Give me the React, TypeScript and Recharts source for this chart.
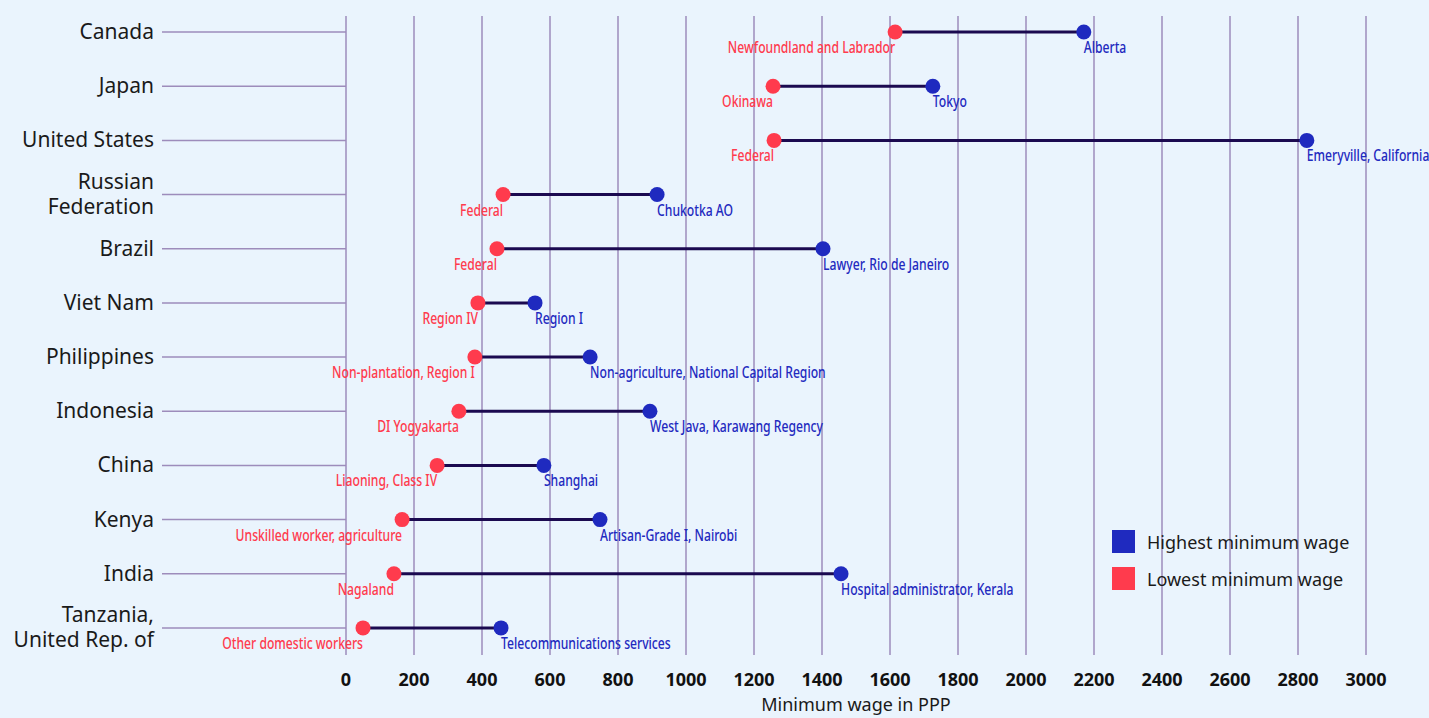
import React from 'react';
import { ScatterChart, Scatter, XAxis, YAxis, CartesianGrid } from 'recharts';

const countries = [
  'Canada',
  'Japan',
  'United States',
  'Russian\nFederation',
  'Brazil',
  'Viet Nam',
  'Philippines',
  'Indonesia',
  'China',
  'Kenya',
  'India',
  'Tanzania,\nUnited Rep. of',
];
const lowestValues = [1615, 1256, 1259, 462, 444, 388, 379, 332, 268, 165, 141, 50];
const lowestLabels = [
  'Newfoundland and Labrador',
  'Okinawa',
  'Federal',
  'Federal',
  'Federal',
  'Region IV',
  'Non-plantation, Region I',
  'DI Yogyakarta',
  'Liaoning, Class IV',
  'Unskilled worker, agriculture',
  'Nagaland',
  'Other domestic workers',
];
const highestValues = [2170, 1726, 2826, 915, 1403, 556, 718, 894, 582, 747, 1456, 456];
const highestLabels = [
  'Alberta',
  'Tokyo',
  'Emeryville, California',
  'Chukotka AO',
  'Lawyer, Rio de Janeiro',
  'Region I',
  'Non-agriculture, National Capital Region',
  'West Java, Karawang Regency',
  'Shanghai',
  'Artisan-Grade I, Nairobi',
  'Hospital administrator, Kerala',
  'Telecommunications services',
];
const xTicks = [0, 200, 400, 600, 800, 1000, 1200, 1400, 1600, 1800, 2000, 2200, 2400, 2600, 2800, 3000];
const legendItems = ['Highest minimum wage', 'Lowest minimum wage'];

const BG = '#eaf4fd';
const RED = '#ff3b4d';
const BLUE = '#1f2abf';
const LINE = '#1b0a50';
const GRID = '#9d8cbb';
const FONT = '"Noto Sans", sans-serif';
const SQUEEZE = 0.76;

const lowData = countries.map((c, i) => ({ x: lowestValues[i], y: i, label: lowestLabels[i] }));
const highData = countries.map((c, i) => ({ x: highestValues[i], y: i, label: highestLabels[i] }));
const pairData = countries.map((c, i) => [
  { x: lowestValues[i], y: i },
  { x: highestValues[i], y: i },
]);

const NarrowLabel = ({ x, y, anchor, color, text }: any) => (
  <text
    transform={`translate(${x},${y}) scale(${SQUEEZE},1)`}
    x={0}
    y={0}
    textAnchor={anchor}
    fill={color}
    style={{ fontFamily: FONT, fontSize: 16, fontWeight: 500 }}
  >
    {text}
  </text>
);

const LowShape = (p: any) => (
  <g>
    <circle cx={p.cx} cy={p.cy} r={7.5} fill={RED} />
    <NarrowLabel x={p.cx} y={p.cy + 21} anchor="end" color={RED} text={p.payload.label} />
  </g>
);

const HighShape = (p: any) => (
  <g>
    <circle cx={p.cx} cy={p.cy} r={7.5} fill={BLUE} />
    <NarrowLabel x={p.cx} y={p.cy + 21} anchor="start" color={BLUE} text={p.payload.label} />
  </g>
);

const NoShape = () => <g />;

const YTick = (p: any) => {
  const lines = String(countries[p.payload.value] ?? '').split('\n');
  const start = lines.length === 1 ? 7 : -6;
  return (
    <text x={p.x} y={p.y} textAnchor="end" fill="#1a1a1a" style={{ fontFamily: FONT, fontSize: 21 }}>
      {lines.map((l, k) => (
        <tspan key={k} x={p.x} y={p.y + start + k * 25.5}>
          {l}
        </tspan>
      ))}
    </text>
  );
};

const XTick = (p: any) => (
  <text
    x={p.x}
    y={p.y + 31}
    textAnchor="middle"
    fill="#111"
    style={{ fontFamily: FONT, fontSize: 18, fontWeight: 700 }}
  >
    {p.payload.value}
  </text>
);

export default function App() {
  return (
    <div style={{ position: 'relative', width: 1429, height: 718, background: BG }}>
      <style>{`html,body{margin:0;padding:0;background:${BG};}`}</style>
      <ScatterChart width={1429} height={718} margin={{ top: 16, right: 63, bottom: 0, left: 0 }}>
        <CartesianGrid horizontal={false} vertical={true} stroke={GRID} strokeWidth={1.5} />
        <XAxis
          type="number"
          dataKey="x"
          domain={[0, 3000]}
          ticks={xTicks}
          axisLine={false}
          tickLine={false}
          tickSize={0}
          tickMargin={0}
          height={63}
          tick={<XTick />}
          interval={0}
          label={{
            value: 'Minimum wage in PPP',
            position: 'insideBottom',
            offset: 7,
            fill: '#1a1a1a',
            style: { fontFamily: FONT, fontSize: 18 },
          }}
        />
        <YAxis
          type="number"
          dataKey="y"
          domain={[-0.296, 11.5]}
          reversed
          ticks={countries.map((c, i) => i)}
          interval={0}
          width={346}
          axisLine={false}
          tickSize={184}
          tickMargin={8}
          tickLine={{ stroke: GRID, strokeWidth: 1.5 }}
          tick={<YTick />}
        />
        {pairData.map((d, i) => (
          <Scatter
            key={'pair' + i}
            data={d}
            line={{ stroke: LINE, strokeWidth: 3 }}
            shape={<NoShape />}
            isAnimationActive={false}
          />
        ))}
        <Scatter data={lowData} shape={<LowShape />} isAnimationActive={false} />
        <Scatter data={highData} shape={<HighShape />} isAnimationActive={false} />
      </ScatterChart>
      <div style={{ position: 'absolute', left: 1112, top: 530, fontFamily: FONT, fontSize: 18, color: '#1a1a1a' }}>
        {legendItems.map((t, k) => (
          <div key={t} style={{ display: 'flex', alignItems: 'center', height: 23, marginBottom: 14 }}>
            <div style={{ width: 23, height: 23, background: k === 0 ? BLUE : RED, marginRight: 12 }} />
            <span>{t}</span>
          </div>
        ))}
      </div>
    </div>
  );
}
